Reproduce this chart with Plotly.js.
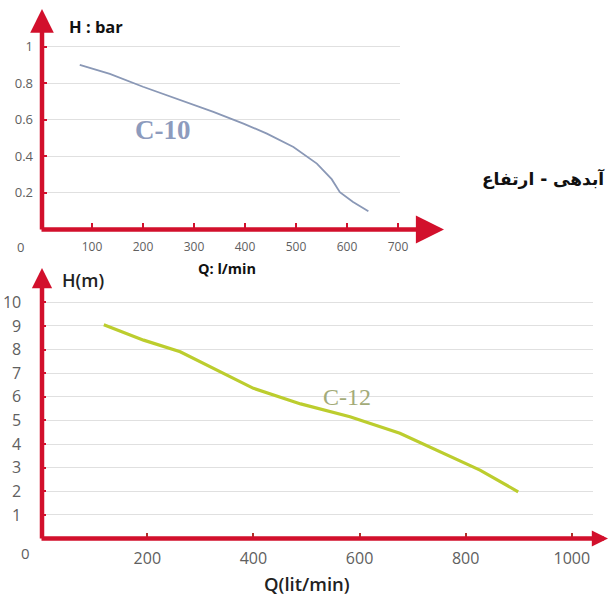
<!DOCTYPE html>
<html>
<head>
<meta charset="utf-8">
<script src="https://cdn.plot.ly/plotly-3.0.1.min.js"></script>
<style>html,body{margin:0;padding:0;background:#fff;}#chart{width:609px;height:595px;}</style>
</head>
<body>
<div id="chart"></div>
<script>
// ---- data: C-10 (top chart, H in bar vs Q in l/min)
const q10 = [76, 135, 200, 266, 338, 397, 443, 495, 541, 570, 586, 612, 642];
const h10 = [0.90, 0.85, 0.78, 0.716, 0.643, 0.579, 0.524, 0.451, 0.36, 0.275, 0.204, 0.15, 0.10];
// ---- data: C-12 (bottom chart, H in m vs Q in lit/min)
const q12 = [118, 193, 262, 331, 400, 489, 582, 676, 752, 827, 899];
const h12 = [9.05, 8.40, 7.91, 7.13, 6.36, 5.70, 5.16, 4.46, 3.68, 2.90, 1.98];
// ---- ticks
const topXTicks = [100, 200, 300, 400, 500, 600, 700];
const topYTicks = [0.2, 0.4, 0.6, 0.8, 1];
const topYLabels = ['0.2', '0.4', '0.6', '0.8', '1'];
const botXTicks = [200, 400, 600, 800, 1000];
const botYTicks = [1, 2, 3, 4, 5, 6, 7, 8, 9, 10];
// ---- labels
const seriesTop = 'C-10';
const seriesBot = 'C-12';
const topYTitle = 'H : bar';
const topXTitle = 'Q: l/min';
const botYTitle = 'H(m)';
const botXTitle = 'Q(lit/min)';
const sideTitle = 'آبدهی - ارتفاع';

const W = 609, H = 595;
const px = v => v / W;
const py = v => 1 - v / H;

const RED = '#d2102c';
const FAM = '"Open Sans", Lato, sans-serif';
const tickFont = {family: FAM, color: '#606060', size: 12};
const tickFontY = {family: FAM, color: '#606060', size: 13};
const tickFontBig = {family: FAM, color: '#606060', size: 16};

const traces = [
  {x: q10, y: h10, xaxis: 'x', yaxis: 'y', mode: 'lines', type: 'scatter',
   line: {color: '#8a98b6', width: 1.8}, hoverinfo: 'skip', showlegend: false},
  {x: q12, y: h12, xaxis: 'x2', yaxis: 'y2', mode: 'lines', type: 'scatter',
   line: {color: '#bccd2e', width: 3.2}, hoverinfo: 'skip', showlegend: false}
];

function arrow(tipX, tipY, tailX, tailY, size) {
  return {xref: 'paper', yref: 'paper', x: px(tipX), y: py(tipY),
    ax: tailX - tipX, ay: tailY - tipY, axref: 'pixel', ayref: 'pixel',
    text: '', showarrow: true, arrowhead: 2, arrowsize: size, arrowwidth: 4.5,
    arrowcolor: RED, standoff: 0};
}
function label(x, y, text, font, xanchor) {
  return {xref: 'paper', yref: 'paper', x: px(x), y: py(y), text: text,
    showarrow: false, font: font, xanchor: xanchor || 'center', yanchor: 'middle'};
}

const annotations = [
  arrow(42, 9, 42, 231, 1.05),
  arrow(444, 229.5, 40, 229.5, 1.25),
  arrow(42, 268, 42, 540, 0.9),
  arrow(609, 538.5, 40, 538.5, 0.72),
  label(20, 247, '0', tickFontY),
  label(25, 553, '0', {family: FAM, color: '#606060', size: 15}),
  label(96, 27, topYTitle, {family: '"Open Sans", sans-serif', size: 16.5, color: '#111', weight: 'bold'}),
  label(227, 269, topXTitle, {family: '"Open Sans", sans-serif', size: 14.5, color: '#111', weight: 'bold'}),
  label(83, 280, botYTitle, {family: '"Open Sans", sans-serif', size: 18, color: '#222', weight: 600}),
  label(307, 583, botXTitle, {family: '"Open Sans", sans-serif', size: 18.5, color: '#222', weight: 600}),
  label(607, 178, sideTitle, {family: '"DejaVu Sans", sans-serif', size: 17, color: '#111', weight: 'bold'}, 'right'),
  {xref: 'x', yref: 'y', x: 239, y: 0.545, text: seriesTop, showarrow: false,
   font: {family: '"Liberation Serif", serif', size: 27, color: '#8d9bbd', weight: 'bold'}},
  {xref: 'x2', yref: 'y2', x: 576, y: 6.0, text: seriesBot, showarrow: false,
   font: {family: '"Liberation Serif", serif', size: 24, color: '#a3ab78'}}
];

const layout = {
  width: W, height: H,
  margin: {l: 0, r: 0, t: 0, b: 0},
  paper_bgcolor: '#fff', plot_bgcolor: 'rgba(0,0,0,0)',
  showlegend: false,
  xaxis: {domain: [px(41), px(400)], range: [0, 704], anchor: 'y',
    tickvals: topXTicks, ticktext: topXTicks.map(String), ticks: 'inside', ticklen: 7, tickwidth: 2,
    tickcolor: RED, showgrid: false, zeroline: false, showline: false,
    tickfont: tickFont, ticklabelstandoff: 8, fixedrange: true},
  yaxis: {domain: [py(229.5), py(37)], range: [0, 1.052], anchor: 'x',
    tickvals: topYTicks, ticktext: topYLabels, ticks: 'inside', ticklen: 6, tickwidth: 2,
    tickcolor: RED, showgrid: true, gridcolor: '#e0e0e0', gridwidth: 1,
    zeroline: false, showline: false, tickfont: tickFontY, ticklabelstandoff: 7, fixedrange: true},
  xaxis2: {domain: [px(41.2), px(593)], range: [0, 1040], anchor: 'y2',
    tickvals: botXTicks, ticktext: botXTicks.map(String), ticks: 'inside', ticklen: 6, tickwidth: 2,
    tickcolor: '#b0302a', showgrid: false, zeroline: false, showline: false,
    tickfont: {family: FAM, color: '#606060', size: 16}, ticklabelstandoff: 8, fixedrange: true},
  yaxis2: {domain: [py(538.6), py(295)], range: [0, 10.31], anchor: 'x2',
    tickvals: botYTicks, ticktext: botYTicks.map(String), ticks: 'inside', ticklen: 5, tickwidth: 2,
    tickcolor: RED, showgrid: true, gridcolor: '#e0e0e0', gridwidth: 1,
    zeroline: false, showline: false, tickfont: tickFontBig, ticklabelstandoff: 19, fixedrange: true},
  annotations: annotations
};

Plotly.newPlot('chart', traces, layout, {displayModeBar: false, staticPlot: true});
</script>
</body>
</html>
